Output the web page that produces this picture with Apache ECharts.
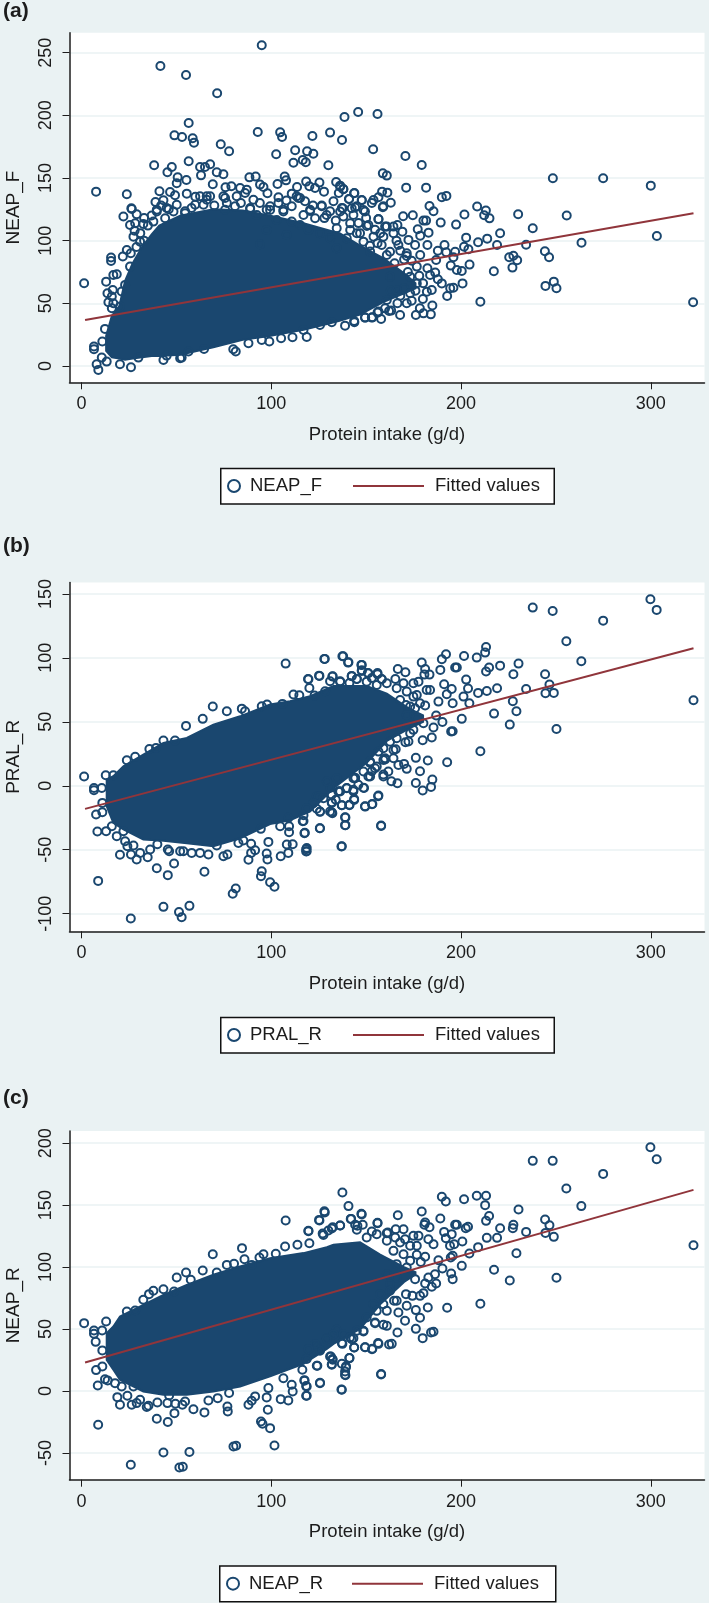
<!DOCTYPE html>
<html>
<head>
<meta charset="utf-8">
<title>Protein intake scatter plots</title>
<script src="https://cdn.jsdelivr.net/npm/echarts@6/dist/echarts.min.js"></script>
<style>
html, body { margin: 0; padding: 0; background: #eaf2f3; }
#main { width: 709px; height: 1603px; }
</style>
</head>
<body>
<div id="main"></div>
<script>
// tick labels
var xTicks = [0, 100, 200, 300];
var neapFTicks = [0, 50, 100, 150, 200, 250];
var pralRTicks = [-100, -50, 0, 50, 100, 150];
var neapRTicks = [-50, 0, 50, 100, 150, 200];

// fitted lines, [protein, value] at both ends
var neapFFit = [[1.9, 36.7], [322.5, 121.8]];
var pralRFit = [[1.9, -18.1], [322.5, 107.5]];
var neapRFit = [[1.9, 23.1], [322.5, 162.3]];

// the solid part of each cloud: low and high edge read per protein value
var neapFCloudX = [13, 16, 20, 23, 27, 32, 37, 41, 52, 69.5, 85, 99, 117, 131, 136, 146.8, 159, 170, 176];
var neapFCloudLow = [12, 7, 6, 5, 6, 7, 8, 8, 9, 15, 21, 24, 29, 34, 36, 41, 51, 58, 62];
var neapFCloudHigh = [24, 40, 48, 68, 82, 95, 105, 112, 120, 125, 124, 120, 114, 108, 106, 96, 86, 74, 66];

var pralRCloudX = [13.3, 16.8, 22.1, 32.6, 43.2, 55.5, 69.5, 83.6, 99.4, 109.9, 120.5, 132.8, 150.3, 160.9, 173, 180];
var pralRCloudLow = [-16, -29, -34.2, -42, -43, -45, -47.3, -41, -30, -27, -20, -2, 18, 35, 45, 50];
var pralRCloudHigh = [4.8, 7.5, 15.3, 24.4, 33.5, 37.4, 47.8, 54.3, 63.5, 66, 70, 78, 78, 72, 60, 55];

var neapRCloudX = [13.3, 16.8, 20.3, 32.6, 43.2, 55.5, 69.5, 83.6, 99.4, 117, 129.3, 132.8, 146.8, 157.4, 170, 176];
var neapRCloudLow = [25.2, 17.2, 9.1, -0.3, -3, -3, -0.3, 3.7, 12, 22, 34, 38, 50, 70, 88, 94];
var neapRCloudHigh = [46.7, 52.1, 60.2, 69.6, 77.6, 85.7, 93.8, 100.5, 107.2, 111.3, 116, 118, 120, 110, 100, 96];

// individual circles, [protein, value]
var neapFPoints = [
    [95, 255.9], [41.6, 239.4], [55.1, 232.2], [71.5, 217.6], [56.5, 193.9], [49, 184], [53, 182.7], [58.6, 181.7], [59.3, 178.2],
    [73.4, 176.9], [77.8, 171.3], [92.9, 186.7], [104.7, 186.4], [105.7, 182.7], [121.7, 183.5], [131, 186.2], [137.3, 180.3],
    [138.6, 198.7], [145.8, 202.7], [156, 201], [153.7, 172.9], [102.6, 168.9], [112.6, 172.1], [118.9, 171.3], [122.2, 169.4],
    [111.7, 162.2], [116.6, 164.4], [118.2, 162.5], [130.1, 160.1], [38.3, 160.1], [7.7, 139.1], [23.9, 137], [45.3, 154.5],
    [47.6, 158.8], [56.5, 163.3], [67.8, 160.9], [62.5, 158.8], [65.1, 158.8], [71.3, 154.5], [74.8, 153], [63, 152.1],
    [50.7, 150.5], [55.3, 148.4], [50.2, 145.8], [158.8, 153.7], [160.9, 151.9], [88.5, 150.5], [91.8, 151.1], [107.1, 151.1],
    [107.8, 148.1], [118.4, 147.1], [125.4, 146.3], [103.3, 145.2], [134.2, 146.8], [136.3, 143.9], [138, 141.2], [69.2, 145],
    [41.1, 139.4], [46.7, 138.8], [55.5, 137.5], [113.6, 142.8], [127.8, 139.1], [143.8, 138], [147.7, 132.2], [158.4, 139.1],
    [135.6, 138], [132.8, 131.4], [141, 133.2], [39, 130.9], [43.2, 132.2], [49.3, 136.2], [26.3, 125.8], [75.9, 142.6],
    [79, 143.4], [83.6, 142], [87.1, 140.7], [94.1, 144.7], [95.9, 142.8], [98, 137.8], [103.8, 134.6], [110.8, 137.5],
    [113.4, 135.4], [115.2, 134], [117.8, 131.4], [120.1, 143.4], [123.1, 142], [126.6, 128], [66, 135.4], [62.5, 135.4],
    [74.8, 135.4],
    [66, 132.7], [64.3, 128.7], [67.8, 135.4], [75.7, 134], [76.6, 130], [81.8, 135.4], [80.9, 127.4], [86.2, 138], [90.6, 132.7],
    [75.7, 124.7], [88.9, 126], [99.4, 127.4], [97.6, 124.7], [103.8, 130], [106.4, 124.7], [110.8, 127.4], [114.3, 134],
    [120.5, 124.7], [126.6, 127.4], [131, 123.4], [137.2, 126], [145.1, 127.4], [153, 130], [159.1, 127.4], [50.2, 128.7],
    [44.9, 126], [39.7, 124.7], [54.6, 123.4], [59.9, 128.7],
    [28, 108], [33, 118], [31, 106], [35, 112], [37, 120], [42, 128], [46, 125], [33, 100], [29, 95], [26, 90], [170, 85], [174, 84],
    [168, 92], [165, 82], [172, 75], [178, 72], [180, 66], [176, 60], [170, 62], [174, 52], [168, 56], [163, 60], [160, 46],
    [166, 100], [152, 96], [156, 98], [150, 118], [146, 114], [60, 135], [58, 126], [70, 128], [84, 130], [94, 130], [108, 132],
    [122, 128], [128, 118], [134, 116],
    [170.7, 167.6], [179.3, 160.4], [171.1, 142.3], [181.6, 142.3], [189.9, 134.6], [192.3, 135.7], [161.2, 138.3],
    [143.7, 137.8], [141, 133.3], [147.7, 132.5], [153.9, 132.5], [156.5, 134.6], [163, 130.3], [158.8, 126.6], [183.4, 127.7],
    [185.5, 123.4], [208.5, 127.2], [213.1, 124], [212.2, 120.2], [215, 117.8], [201.8, 120.8], [230.1, 121], [255.7, 120],
    [237.8, 109.9], [169.5, 119.4], [174.6, 120.2], [180.2, 116], [181.6, 116], [189.3, 114.4], [197.4, 112.8], [177.2, 109.1],
    [178.5, 104], [182.9, 106.4], [169.1, 107.2], [156.5, 117], [166.5, 112.5], [160.9, 111.2], [150.4, 111.7], [202.7, 102.4],
    [213.8, 101.6], [220.6, 105.9], [209, 98.7], [219, 96.6], [234.3, 96.8], [263.5, 98.4], [303.2, 103.7], [248.4, 149.8],
    [274.9, 149.8], [300, 143.9], [244.2, 91.5], [246.4, 86.7], [225.4, 86.7], [227.6, 88], [229.6, 84.3], [227.1, 78.5],
    [217.3, 75.6], [204.5, 80.9], [200.4, 75.8], [197.8, 76.6], [194.6, 80.1], [196.9, 91.2], [201.6, 95.2], [203.9, 93.1],
    [191.3, 96.6], [187.8, 92], [192.2, 90.7], [196, 86.7], [186.9, 84.6], [176.7, 79.3], [182.3, 96.6], [175.8, 96.6],
    [172.3, 100.6], [178.5, 88.6], [171.4, 87.8], [182.3, 78], [186.4, 74.5], [183.7, 72.6], [187.8, 69.2], [189.9, 65.9],
    [200.8, 65.9], [196, 62.5], [194.3, 62], [192.7, 55.9], [184.6, 60.7], [182, 59.3], [179.9, 53.5], [184.9, 48.2],
    [178.3, 46], [184.1, 41.2], [180.2, 42], [176.2, 40.7], [167.9, 40.7], [171.4, 50], [166.5, 50], [163.2, 44.2],
    [157.9, 37.5], [153.3, 38.8], [149.5, 38.6], [156, 42.6], [143.7, 35.9], [138.9, 32.2], [210.2, 51.3], [322.3, 50.8],
    [244.5, 63.9], [248.9, 67.3], [250.3, 62], [162.6, 91.2], [167, 96.6], [171.4, 89.9], [162.6, 71.3], [173.2, 71.3],
    [176.7, 65.9], [173.2, 58], [166.2, 60.7], [160.9, 52.7], [159.1, 103.2], [164.4, 105.9], [153.9, 103.2], [146.8, 105.9],
    [141.6, 108.5], [138, 119.2], [143.3, 120.5], [148.6, 124.5], [142.4, 125.8], [137.7, 125.8], [136.3, 143.1], [138, 141],
    [164.4, 111.2], [157.4, 105.9], [141.6, 113.8],
    [22.1, 119.2], [26.5, 125.3], [29.1, 121], [25.6, 112.5], [32.6, 113.3], [28.3, 113.9], [37.9, 115.2], [39.7, 123.2],
    [44.1, 117.9], [48.5, 123.2], [54.6, 121.9], [27.4, 103.2], [30.9, 99.2], [23.9, 92.6], [21.8, 87.3], [15.6, 86.5],
    [15.6, 83.8], [25.6, 79.3], [16.8, 72.6], [18.6, 73.2], [13, 67.3], [23, 64.7], [1.4, 66], [21.2, 59.4], [16.5, 60.7],
    [13.7, 58], [16, 55.4], [14.2, 50.8], [16.8, 50], [16, 46.1], [20.3, 47.4], [12.4, 29.6], [11, 19.5], [6.6, 15.5],
    [6.6, 13.3], [8, 1.4], [8.9, -3.1], [13.3, 3.5], [10.7, 6.7], [26.1, -1], [20.3, 1.4], [43.2, 4.8], [52, 6.2], [52.8, 6.7],
    [30, 6.7], [44.9, 8.3], [56.4, 11.5], [64.6, 13.6], [80, 13.3], [81.3, 11.5], [88, 18.1], [95, 20.8], [99, 19.5],
    [105.2, 22.1], [111.2, 22.9], [118.7, 23.2], [117, 28.8], [125.7, 32.8], [131.9, 34.9], [143.8, 35], [149.4, 38.6],
    [153, 38.6], [156.5, 43.4], [162.1, 43.9], [117, 120.5], [120.5, 123.7], [106.4, 123.2], [99.4, 124.5], [88.9, 125.3],
    [92.4, 120.5], [102.9, 116.5], [110.8, 115.2], [123.1, 117.9], [129.2, 120.5], [136.3, 123.2], [144.2, 126.4],
    [149.4, 123.2], [156.5, 117.3], [151.2, 112.5], [145.1, 105.9], [139.8, 101.9], [134.5, 93.9], [119.6, 108.6],
    [115.2, 112.5], [97.6, 108.5], [94.1, 97.1], [108.2, 104.6], [125.7, 105.9], [134.5, 109.9], [131, 101.9], [148.6, 99.2],
    [154.7, 108.6], [160, 111.2], [158.2, 96.6], [152.1, 91.3], [160.9, 88.6]
];

var pralRPoints = [
    [107.6, 95.5], [128.2, 99.2], [137.9, 101.2], [140.7, 96.5], [147.7, 94.5], [147.7, 90.3], [119.4, 83.5], [125.2, 86.1],
    [132.4, 85.6], [131, 81.7], [136.3, 81.7], [142.4, 85.6], [145.1, 83.5], [141.2, 80.4], [150.9, 88.2], [156, 88.2],
    [158.2, 83.5], [153, 84.3], [120.1, 76.5], [111.7, 71.3], [114.8, 70.8], [122.8, 70.5], [128.4, 73.9], [69.2, 61.9],
    [76.6, 58.3], [84.5, 60.3], [86.2, 58.3], [63.9, 52.3], [55.1, 46.8], [97.8, 63.5], [95, 62.2], [105.9, 64], [43.2, 35.3],
    [49.3, 35.3], [35.8, 28.8], [39.3, 29.6], [28.3, 22.6], [23.9, 20], [12.8, 8.2], [16.8, 8.2], [1.4, 7.2], [6.6, -1.7],
    [6.6, -3.5], [10.7, -1.7], [11, -13.4], [7.7, -22.5], [11, -20.7], [8.4, -35.8], [13, -35.5], [16, -31.6], [18.6, -39.4],
    [22.1, -35.5], [23, -43.4], [20.3, -54], [24.2, -47.3], [27.4, -46.7], [26.1, -53.8], [29.1, -57.7], [30.9, -52.5],
    [34.9, -55.9], [36.2, -49.9], [40, -45.7], [45.5, -49.9], [46.2, -51.2], [52, -51.2], [53.7, -51.2], [58.1, -52.5],
    [62.5, -52.5], [66.9, -53.8], [74.8, -55.1], [76.9, -53.8], [71.3, -46.7], [82.7, -44.7], [85.3, -42.8], [89.4, -45.4],
    [91.5, -50.4], [89.4, -52.5], [88, -57.9], [98.5, -43.9], [97.6, -53], [98, -57.7], [105, -55.1], [109, -52.5],
    [108.2, -46], [111.3, -45.7], [118.7, -48.6], [118.7, -51.2], [137.2, -47.3], [117.7, -36.8], [125.7, -33.2],
    [109.4, -36.3], [109.4, -31.6], [109, -25.1], [116.6, -27.7], [117, -23], [94.5, -33.7], [104.7, -31.6], [138.9, -24.6],
    [138.9, -30.8], [157.9, -31.1], [149.4, -16], [153.3, -14.2], [156.5, -7.7], [131.9, -20.7], [125.7, -20.4], [124, -8.2],
    [131.9, -13.4], [137.2, -15.2], [141.2, -15.2], [143.7, -10.3], [143.3, -4.3], [148.6, -1.6], [135.9, -4.3], [131, -1.8],
    [139.8, -1.8], [144.2, 6.2], [152.1, 17.9], [153, 11.3], [159.1, 8.8], [160, 20.5], [39.7, -64.5], [48.8, -60.8],
    [45.5, -69.9], [64.8, -67.3], [8.8, -74.4], [95, -66.8], [94.6, -70.7], [99.4, -75.4], [101.7, -79], [81.3, -80.3],
    [79.7, -84.5], [43.2, -94.7], [56.9, -93.9], [51.4, -98.8], [52.8, -102.8], [26, -103.8],
    [237.8, 139.3], [248.3, 136.7], [299.8, 145.8], [303.1, 137.5], [274.9, 129.1], [255.5, 113], [263.4, 97.3], [322.5, 66.9],
    [210.2, 27], [250.3, 44.4], [225.7, 47.8], [229.2, 58.3], [217.4, 56.4], [200.4, 52.3], [192.7, 18.4], [182.5, 19.7],
    [176.2, 21.8], [178.4, 11.4], [184.9, 4.8], [176.2, 2.2], [184.2, -0.9], [179.8, -3.7], [166.5, 2], [163.3, 3.5],
    [171.4, 13.2], [170, 17.1], [167, 16.3], [164.4, 21.5], [165.6, 28.6], [159.1, 20.2], [161.7, 11.1], [159.1, 7.2],
    [156.3, -8.2], [153.1, -14.4], [149.5, -16.3], [157.9, -31.4], [148.9, -1.8], [143.7, -11.1], [141.2, -14.9], [137.2, -15.2],
    [131.9, -12.9], [131, -20.2], [132.2, -21.5], [139.1, -24.8], [139.1, -30.8], [125.6, -33.2], [117.5, -37.1], [137, -47.5],
    [118.4, -49.6], [118.4, -51.4], [117, -27.5], [124, -18], [125.7, -20.2], [124.9, -8.4], [134, -11], [135.4, -4.5],
    [143.3, -3.2], [144.2, 5.9], [151.2, 7.2], [154.7, 13.7], [145.9, 0.7], [128, 99.2], [137.5, 101.2], [140.5, 96.3],
    [147.5, 94.5], [147.7, 89.8], [156, 87.2], [125.4, 85.9], [119.6, 83.3], [132.2, 85.4], [136.3, 81.4], [142.4, 85.9],
    [145.1, 83.5], [151.2, 88], [158.2, 83.3], [166.7, 91.3], [170.7, 88.7], [165.4, 83.5], [179.3, 96.3], [181.1, 91.3],
    [183.4, 86.9], [180.7, 86.9], [189.9, 98.9], [192.1, 102.8], [201.6, 101.5], [208.3, 100.2], [212.7, 104.1], [213.2, 108.5],
    [189.1, 90.6], [196.9, 92.4], [197.8, 92.4], [214.8, 92.4], [213.2, 89.3], [220.6, 93.9], [230.3, 95.5], [227.6, 87.2],
    [244.3, 87.2], [246.6, 79.1], [244.5, 72.3], [248.9, 72.6], [234.3, 75.7], [227.3, 66.1], [219, 76.2], [213.6, 74.1],
    [209, 72.6], [202.7, 83], [191.1, 79.4], [203.7, 76], [201.3, 69.7], [204.4, 64.5], [195.1, 75.7], [192.5, 71.5],
    [188.1, 65.8], [195.6, 64.5], [190.2, 49.9], [186.9, 54.9], [194.8, 42.4], [195.6, 42.6], [184.6, 37.7], [185.5, 45.5],
    [179.8, 35.6], [172.3, 34.6], [170.7, 34], [174.9, 43.7], [173.2, 41], [181.1, 62.7], [178.4, 64.5], [175.8, 60.6],
    [181.9, 74.9], [183.7, 74.9], [174.9, 69.7], [177.6, 81.4], [174.9, 80.1], [169.7, 80.1], [171, 63.2],
    [150.3, 81.4], [155.6, 78.8], [160.9, 80.1], [166.1, 76.2], [171.4, 73.6], [176.7, 71], [167.9, 67.1], [173.2, 61.9],
    [171.4, 55.4], [176.7, 52.8], [180.2, 48.9], [167.9, 45], [166.1, 37.2], [162.6, 34.5], [159.1, 29.3], [164.4, 28],
    [156.5, 26.7], [160, 21.5], [152.1, 19], [155.6, 15], [148.6, 11.1], [152.1, 7.2], [143.3, 5.9], [139.8, -1.9], [136.3, -4.5],
    [131.9, -7.1], [127.5, -9.7], [122.2, -13.6], [118.7, -17.6], [129.3, 3.3], [134.5, 5.9]
];

var neapRPoints = [
    [107.6, 137.6], [125.4, 137.6], [128.2, 144], [147.7, 142.4], [142.1, 138.9], [119.6, 129], [136.3, 133.6], [132.4, 132.2],
    [130.1, 129.5], [144.2, 134.1], [148.2, 134.1], [156, 135.4], [145.1, 130.1], [127.5, 126], [153, 128.7], [160.9, 127.4],
    [69.2, 110.4], [84.6, 115.3], [85.9, 106.4], [95.9, 110.4], [93.8, 107.8], [107.3, 116.6], [113.8, 118], [120.1, 119.3],
    [102.4, 110.7], [89.7, 101.8], [76.6, 101.8], [80.4, 102.7], [63.9, 97.3], [55.1, 95.7], [50.2, 91.6], [57.6, 89.8],
    [71.3, 95.7], [43.2, 82.2], [37.9, 80.9], [35.6, 78.2], [32.6, 73.6], [48.8, 80.3], [28.3, 65], [23.9, 64.2], [13, 56.1],
    [1.4, 54.8], [6.6, 48.9], [6.6, 46.2], [10.9, 48.9], [7.5, 39.7], [11, 32.8], [11, 19.8], [7.7, 16.9], [8.6, 4.5],
    [12.4, 9.6], [13.8, 8.6], [17.7, 6.4], [21.2, 3.7], [27.4, 3.7], [18.9, -4.9], [20.3, -11.1], [24.2, -3.8], [26.5, -11.1],
    [29.1, -9.7], [30.9, -7], [34.4, -12.9], [35.3, -11.9], [40, -9.2], [45.3, -9.7], [46.2, -3.5], [49.5, -10.2], [53.2, -11.1],
    [54.6, -8.4], [59, -14.6], [64.8, -17.2], [66.9, -7.6], [71.8, -5.7], [76.9, -12.4], [77.1, -16.4], [77.8, -1.6], [88, -11.1],
    [89.7, -7.8], [91.5, -4.3], [97.6, -5.1], [98.2, -15.1], [98.5, 2.4], [105, -6.5], [109, -7.6], [111.3, -0.3], [110.8, 5.1],
    [118.7, -3.8], [118.7, 3.7], [117.5, 8.3], [125.7, 6.7], [137.2, 1], [116.4, 17.2], [106.4, 10.4], [124, 20.4], [131.9, 21.2],
    [131, 27.9], [132.4, 25.2], [137.2, 22], [139.4, 19.9], [138.9, 15.8], [138.9, 13.1], [141.2, 26.6], [157.9, 13.7],
    [143.7, 35.2], [137.5, 38.1], [149.4, 35.4], [153.3, 34.1], [156.5, 38.1], [162.1, 37.6], [125.7, 33.3], [124, 36.5],
    [129.3, 42.7], [134.5, 49.4], [143.3, 42.7], [148.6, 48.1], [154.7, 54.8], [159.1, 53.5], [39.7, -22.4], [45.5, -25],
    [49, -17.8], [8.8, -27.2], [94.6, -24.5], [95.4, -26.4], [99.4, -29.9], [101.7, -43.9], [80.1, -44.7], [81.5, -44.1],
    [43.2, -49.5], [56.9, -49.2], [26, -59.4], [51.6, -61.6], [53.4, -61.1],
    [237.8, 185.7], [248.3, 185.7], [299.8, 196.7], [303.1, 187], [274.9, 175.2], [255.5, 163.4], [263.4, 149.2], [322.5, 117.7],
    [210.2, 70.4], [250.3, 91.4], [225.7, 89.2], [229.2, 111.2], [217.4, 97.8], [200.4, 101], [192.7, 67.2], [182.5, 67.4],
    [176.2, 65.3], [171.4, 68.8], [178.4, 59.1], [176.2, 50.2], [179.8, 42.7], [184.2, 47.3], [185.5, 47.8], [166.5, 47.2],
    [163.5, 38.1], [156.3, 38.7], [153.1, 33.8], [149.5, 35.4], [143.7, 35.2], [141.2, 26.6], [137.2, 38.7], [157.9, 13.4],
    [137, 1.3], [125.7, 6.4], [118.4, -3.8], [118.4, 4], [117.5, 8.8], [124.3, 20.4], [131.9, 21.7], [139.3, 19], [139.1, 12.8],
    [131.4, 27.9], [132.2, 25.8], [137.5, 160.2], [140.7, 149.2], [128, 145.1], [125.2, 138.1], [119.6, 129.3], [147.5, 143],
    [141.9, 138.9], [136.3, 133.6], [131.9, 131.1], [127.1, 127.1], [156, 135.7], [166.7, 141.9], [145.4, 133.3], [179.3, 144.8],
    [189.9, 156.7], [192, 152.9], [201.6, 154.8], [208.3, 157.5], [213.2, 157.5], [212.7, 150], [214.8, 141.3], [213.2, 137.3],
    [220.6, 131.4], [230.3, 146.5], [227.6, 134.1], [227.3, 131.4], [244.3, 138.4], [246.6, 133.8], [244.5, 127.6], [248.9, 124.4],
    [234.3, 128.4], [219, 123.6], [213.6, 123.6], [209, 116.1], [204.4, 111], [196.9, 134.1], [197.8, 134.1], [202.5, 131.4],
    [203.7, 132.5], [189.1, 139.2], [181.1, 136], [180.7, 134.1], [183.4, 132.2], [191.1, 128.4], [195.1, 126.6], [200.7, 120.7],
    [192, 123.3], [185.5, 118.5], [196.4, 118.5], [194.2, 117.2], [188.1, 105.6], [195.6, 109.1], [194.6, 107.7], [190.2, 98.9],
    [194.8, 94.8], [195.6, 90.3], [186.9, 86.8], [184.6, 84.1], [186.3, 94.3], [182.8, 91.6], [181.1, 86.8], [180.2, 79],
    [178.4, 76.8], [174.4, 76.8], [171, 78.2], [175.8, 90.3], [176.7, 109.9], [178.8, 104.2], [181.1, 108.3], [177.6, 125.2],
    [182.8, 122.5], [174.9, 125.2], [169.7, 130.6], [165.6, 130.6], [161.4, 127.9], [170.5, 122.5], [165.3, 123.9], [166.1, 72.8],
    [164.7, 72.8], [160.9, 64.7], [167, 63.4], [170.5, 56.7], [160.9, 52.6], [154.7, 55.3], [148.6, 48.6], [142.4, 41.9],
    [125.7, 32.5], [118.7, 25.8],
    [150.3, 123.9], [155.6, 126.6], [160.9, 121.2], [167.9, 119.8], [173.2, 117.2], [176.7, 117.2], [164.4, 113.1], [169.7, 110.4],
    [173.2, 105.1], [166.1, 102.4], [171.4, 99.7], [160.9, 94.3], [166.1, 91.6], [162.6, 86.2], [157.4, 78.2], [162.6, 80.9],
    [153.8, 70.1], [159.1, 70.1], [150.3, 59.4], [155.6, 64.7], [145.1, 48.6], [138, 45.9], [132.8, 45.9], [129.3, 41.9],
    [123.1, 37.9], [141.5, 43.2], [119.6, 33.8]
];

var navy = '#1a476f';
var maroon = '#90353b';
var page = '#eaf2f3';
var ink = '#1c1c1c';
var font = '"Liberation Sans", Arial, sans-serif';

// 面板
var panels = [
    { tag: '(a)', tagTop: 1, name: 'NEAP_F', top: 32.7, height: 349.6, min: -13, max: 265.9, ticks: neapFTicks, fit: neapFFit, points: neapFPoints,
      cloudX: neapFCloudX, cloudLow: neapFCloudLow, cloudHigh: neapFCloudHigh, boxTop: 467.7, boxHeight: 35.6, boxLeft: 220, boxWidth: 333.5 },
    { tag: '(b)', tagTop: 536, name: 'PRAL_R', top: 582.4, height: 348.9, min: -113.8, max: 159, ticks: pralRTicks, fit: pralRFit, points: pralRPoints,
      cloudX: pralRCloudX, cloudLow: pralRCloudLow, cloudHigh: pralRCloudHigh, boxTop: 1016.8, boxHeight: 35.5, boxLeft: 220, boxWidth: 333.5 },
    { tag: '(c)', tagTop: 1088, name: 'NEAP_R', top: 1131, height: 348.7, min: -71.5, max: 209.8, ticks: neapRTicks, fit: neapRFit, points: neapRPoints,
      cloudX: neapRCloudX, cloudLow: neapRCloudLow, cloudHigh: neapRCloudHigh, boxTop: 1565.3, boxHeight: 35.7, boxLeft: 219, boxWidth: 336 }
];

var option = {
    animation: false,
    backgroundColor: page,
    title: [],
    grid: [],
    xAxis: [],
    yAxis: [],
    legend: [],
    graphic: { elements: [] },
    series: []
};

panels.forEach(function (p, i) {
    option.title.push({
        text: p.tag, left: 3, top: p.tagTop, padding: 0,
        textStyle: { fontFamily: font, fontSize: 21, fontWeight: 'bold', color: ink }
    });
    option.grid.push({
        left: 69.5, width: 635, top: p.top, height: p.height,
        outerBoundsMode: 'none',
        show: true, backgroundColor: '#ffffff', borderWidth: 0
    });
    option.xAxis.push({
        type: 'value', gridIndex: i, min: -6.3, max: 328.3,
        name: 'Protein intake (g/d)', nameLocation: 'middle', nameGap: 43,
        nameTextStyle: { fontFamily: font, fontSize: 18.5, color: ink },
        axisLine: { onZero: false, lineStyle: { color: ink, width: 1.5 } },
        axisTick: { length: 7, customValues: xTicks, lineStyle: { color: ink, width: 1 } },
        axisLabel: { customValues: xTicks, margin: 13, showMinLabel: true, showMaxLabel: true, fontFamily: font, fontSize: 18, color: ink },
        splitLine: { show: false }
    });
    option.yAxis.push({
        type: 'value', gridIndex: i, min: p.min, max: p.max,
        name: p.name, nameLocation: 'middle', nameGap: 46,
        nameTextStyle: { fontFamily: font, fontSize: 19, color: ink },
        axisLine: { onZero: false, lineStyle: { color: ink, width: 1.5 } },
        axisTick: { length: 7, customValues: p.ticks, lineStyle: { color: ink, width: 1 } },
        axisLabel: { customValues: p.ticks, rotate: 90, margin: 14, fontFamily: font, fontSize: 18, color: ink },
        splitLine: { show: true, lineStyle: { color: page, width: 1.5 } }
    });
    option.graphic.elements.push({
        type: 'rect', left: p.boxLeft, top: p.boxTop, silent: true,
        shape: { width: p.boxWidth, height: p.boxHeight },
        style: { fill: '#ffffff', stroke: '#111111', lineWidth: 1.5 }
    });

    var legendMid = p.boxTop + p.boxHeight / 2 - 9;
    option.legend.push({
        data: [p.name], left: p.boxLeft + 7, top: legendMid, padding: 0, selectedMode: false,
        itemWidth: 12, itemHeight: 12, icon: 'circle',
        itemStyle: { color: 'transparent', borderColor: navy, borderWidth: 2 },
        textStyle: { fontFamily: font, fontSize: 18.5, color: ink, padding: [0, 0, 0, 5] }
    });
    option.legend.push({
        data: ['Fitted values'], left: p.boxLeft + 133, top: legendMid, padding: 0, selectedMode: false,
        itemWidth: 71, itemHeight: 2, icon: 'rect', itemSymbolKeepAspect: false,
        itemStyle: { color: maroon },
        textStyle: { fontFamily: font, fontSize: 18.5, color: ink, padding: [0, 0, 0, 6] }
    });

    // solid part of the cloud
    option.series.push({
        type: 'custom', name: p.name + ' cloud', xAxisIndex: i, yAxisIndex: i, silent: true, z: 2,
        data: [0],
        renderItem: function (params, api) {
            var pts = [];
            p.cloudX.forEach(function (x, k) { pts.push(api.coord([x, p.cloudHigh[k]])); });
            for (var k = p.cloudX.length - 1; k >= 0; k--) { pts.push(api.coord([p.cloudX[k], p.cloudLow[k]])); }
            return { type: 'polygon', shape: { points: pts }, style: { fill: navy, stroke: navy, lineWidth: 2 } };
        }
    });
    option.series.push({
        type: 'scatter', name: p.name, xAxisIndex: i, yAxisIndex: i, z: 3,
        data: p.points, symbol: 'circle', symbolSize: 8, progressive: 0,
        itemStyle: { color: 'transparent', borderColor: navy, borderWidth: 2, opacity: 1 }
    });
    option.series.push({
        type: 'line', name: 'Fitted values', xAxisIndex: i, yAxisIndex: i, z: 4,
        data: p.fit, symbol: 'none', showSymbol: false,
        lineStyle: { color: maroon, width: 2 }, itemStyle: { color: maroon }
    });
});

var chart = echarts.init(document.getElementById('main'));
chart.setOption(option);
</script>
</body>
</html>
